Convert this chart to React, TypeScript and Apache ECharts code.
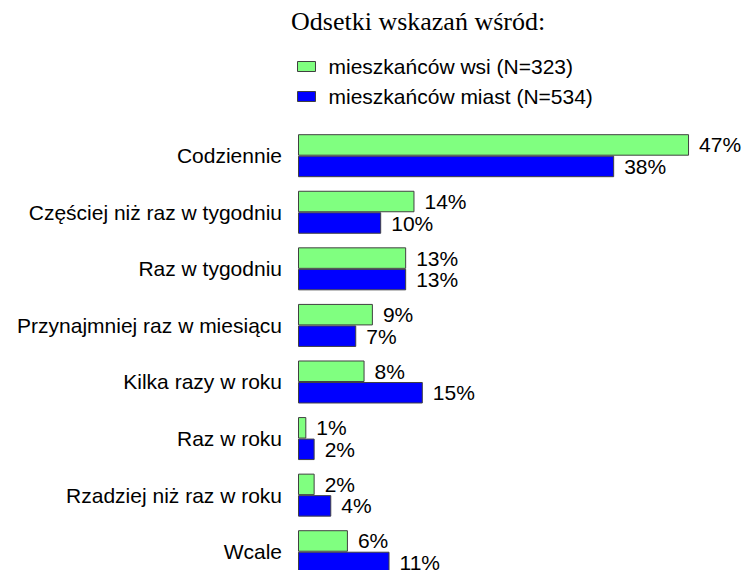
import React, { useEffect, useRef } from "react";
import * as echarts from "echarts";

const categories = [
  "Codziennie",
  "Częściej niż raz w tygodniu",
  "Raz w tygodniu",
  "Przynajmniej raz w miesiącu",
  "Kilka razy w roku",
  "Raz w roku",
  "Rzadziej niż raz w roku",
  "Wcale",
];
const seriesNames = ["mieszkańców wsi (N=323)", "mieszkańców miast (N=534)"];
const villageValues = [47, 14, 13, 9, 8, 1, 2, 6];
const cityValues = [38, 10, 13, 7, 15, 2, 4, 11];
const titleText = "Odsetki wskazań wśród:";

const SANS = "'Liberation Sans', Arial, Helvetica, sans-serif";
const SERIF = "'Liberation Serif', 'Times New Roman', serif";

export default function App() {
  const ref = useRef<HTMLDivElement>(null);
  useEffect(() => {
    if (!ref.current) return;
    const chart = echarts.init(ref.current, undefined, { renderer: "svg" });
    const label = {
      show: true,
      position: "right",
      distance: 10,
      formatter: "{c}%",
      fontSize: 21,
      fontFamily: SANS,
      color: "#000",
    };
    chart.setOption({
      animation: false,
      backgroundColor: "#fff",
      title: {
        text: titleText,
        left: 291,
        top: 8,
        padding: 0,
        textStyle: {
          fontFamily: SERIF,
          fontSize: 26,
          fontWeight: "normal",
          color: "#000",
        },
      },
      legend: {
        orient: "vertical",
        left: 297,
        top: 56,
        padding: 0,
        itemGap: 9,
        itemWidth: 18,
        itemHeight: 10,
        icon: "rect",
        data: seriesNames,
        itemStyle: { borderColor: "#404040", borderWidth: 1 },
        textStyle: {
          fontFamily: SANS,
          fontSize: 21,
          lineHeight: 21,
          color: "#000",
          padding: [0, 0, 0, 8],
        },
      },
      grid: {
        left: 298,
        top: 127.4,
        width: 416,
        height: 452.6,
        containLabel: false,
        outerBoundsMode: "none",
      },
      xAxis: {
        type: "value",
        min: 0,
        max: 50,
        show: false,
      },
      yAxis: {
        type: "category",
        data: categories,
        inverse: true,
        axisLine: { show: false },
        axisTick: { show: false },
        splitLine: { show: false },
        axisLabel: {
          margin: 16,
          fontSize: 21,
          fontFamily: SANS,
          color: "#000",
        },
      },
      series: [
        {
          name: seriesNames[0],
          type: "bar",
          data: villageValues,
          barWidth: 21.5,
          barGap: "0%",
          itemStyle: { color: "#80FF80", borderColor: "#404040", borderWidth: 1 },
          label,
        },
        {
          name: seriesNames[1],
          type: "bar",
          data: cityValues,
          barWidth: 21.5,
          barGap: "0%",
          itemStyle: { color: "#0000FF", borderColor: "#404040", borderWidth: 1 },
          label,
        },
      ],
    });
    return () => chart.dispose();
  }, []);
  return (
    <div
      ref={ref}
      style={{ position: "absolute", left: 0, top: 0, width: 747, height: 570 }}
    />
  );
}
